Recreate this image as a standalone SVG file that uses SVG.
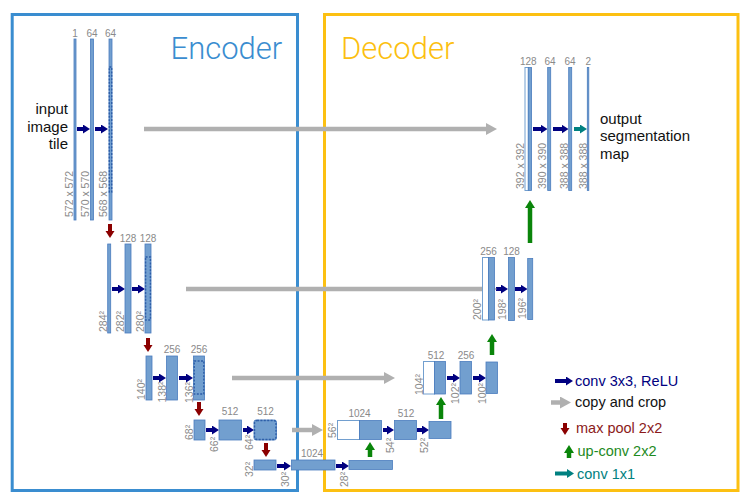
<svg xmlns="http://www.w3.org/2000/svg" width="746" height="496" viewBox="0 0 746 496">
<defs>
<style>
.bar{fill:#729fcf;stroke:#4a7cbe;stroke-width:0.8}
.wbar{fill:#ffffff;stroke:#729fcf;stroke-width:1}
.crop{fill:none;stroke:#2d5ea8;stroke-width:1.4;stroke-dasharray:2 1.4}
.ch{font-family:"Liberation Sans",Arial,sans-serif;font-size:10px;fill:#8a8a8a;text-anchor:middle}
.dim{font-family:"Liberation Sans",Arial,sans-serif;font-size:10.5px;fill:#8a8a8a}
.lbl{font-family:"Liberation Sans",Arial,sans-serif;font-size:15px;fill:#111111}
.leg{font-family:"Liberation Sans",Arial,sans-serif;font-size:14.5px}
.title{font-family:Roboto,"Liberation Sans",sans-serif;font-weight:300;font-size:31px}
.conv{stroke:#000080;stroke-width:4;fill:none;marker-end:url(#hNavy)}
.copy{stroke:#b0b0b0;stroke-width:4.5;fill:none;marker-end:url(#hGray)}
.pool{stroke:#8b0000;stroke-width:4;fill:none;marker-end:url(#hRed)}
.up{stroke:#0a850a;stroke-width:4.5;fill:none;marker-end:url(#hGreen)}
.c11{stroke:#008080;stroke-width:4;fill:none;marker-end:url(#hTeal)}
</style>
<marker id="hNavy" markerUnits="userSpaceOnUse" markerWidth="8" markerHeight="10" refX="1" refY="4.5" orient="auto"><path d="M0,0 L7,4.5 L0,9 Z" fill="#000080"/></marker>
<marker id="hTeal" markerUnits="userSpaceOnUse" markerWidth="8" markerHeight="10" refX="1" refY="4.5" orient="auto"><path d="M0,0 L7,4.5 L0,9 Z" fill="#008080"/></marker>
<marker id="hRed" markerUnits="userSpaceOnUse" markerWidth="8" markerHeight="10" refX="1" refY="4.5" orient="auto"><path d="M0,0 L7,4.5 L0,9 Z" fill="#8b0000"/></marker>
<marker id="hGreen" markerUnits="userSpaceOnUse" markerWidth="9" markerHeight="11" refX="1" refY="5" orient="auto"><path d="M0,0 L8,5 L0,10 Z" fill="#0a850a"/></marker>
<marker id="hGray" markerUnits="userSpaceOnUse" markerWidth="12" markerHeight="13" refX="1" refY="6" orient="auto"><path d="M0,0 L11,6 L0,12 Z" fill="#b0b0b0"/></marker>
</defs>
<rect width="746" height="496" fill="#ffffff"/>

<g id="encoder-frame">
<rect x="12.2" y="14.5" width="285.3" height="476" fill="none" stroke="#3a8dd0" stroke-width="3"/>
<text class="title" x="170.5" y="58.5" fill="#3a8dd0">Encoder</text>
</g>
<g id="decoder-frame">
<rect x="324.5" y="14.5" width="413.5" height="476" fill="none" stroke="#fcc012" stroke-width="3"/>
<text class="title" x="341" y="58.5" fill="#fcbf10">Decoder</text>
</g>

<g id="connectors">
<line class="conv" x1="77" y1="129" x2="84" y2="129"/>
<line class="conv" x1="95" y1="129" x2="102" y2="129"/>
<line class="conv" x1="112" y1="289" x2="119" y2="289"/>
<line class="conv" x1="132" y1="289" x2="139" y2="289"/>
<line class="conv" x1="153" y1="378" x2="160" y2="378"/>
<line class="conv" x1="179" y1="378" x2="187" y2="378"/>
<line class="conv" x1="206" y1="430" x2="213" y2="430"/>
<line class="conv" x1="243" y1="430" x2="248" y2="430"/>
<line class="conv" x1="277" y1="466" x2="285" y2="466"/>
<line class="conv" x1="336" y1="466" x2="343" y2="466"/>
<line class="conv" x1="383" y1="430" x2="388" y2="430"/>
<line class="conv" x1="417" y1="430" x2="423" y2="430"/>
<line class="conv" x1="447" y1="378" x2="454" y2="378"/>
<line class="conv" x1="473" y1="378" x2="480" y2="378"/>
<line class="conv" x1="496" y1="289" x2="502" y2="289"/>
<line class="conv" x1="515" y1="289" x2="521.5" y2="289"/>
<line class="conv" x1="533" y1="129" x2="541.5" y2="129"/>
<line class="conv" x1="553" y1="129" x2="562.5" y2="129"/>
<line class="c11" x1="574" y1="129" x2="581" y2="129"/>
<line class="copy" x1="144" y1="129" x2="487" y2="129"/>
<line class="copy" x1="186" y1="289" x2="487" y2="289"/>
<line class="copy" x1="232" y1="378" x2="385" y2="378"/>
<line class="copy" x1="292" y1="430" x2="313" y2="430"/>
<line class="pool" x1="110" y1="224" x2="110" y2="232"/>
<line class="pool" x1="148" y1="338" x2="148" y2="346"/>
<line class="pool" x1="199" y1="402" x2="199" y2="410"/>
<line class="pool" x1="266" y1="443" x2="266" y2="451"/>
<line class="up" x1="370" y1="457" x2="370" y2="449"/>
<line class="up" x1="441" y1="419" x2="441" y2="404"/>
<line class="up" x1="492" y1="355" x2="492" y2="341"/>
<line class="up" x1="530" y1="243" x2="530" y2="207"/>
</g>

<g id="enc-level1">
<rect class="bar" x="74" y="39" width="2" height="181"/>
<rect class="bar" x="90.5" y="39" width="3" height="181"/>
<rect class="bar" x="109" y="39" width="3" height="181"/>
<rect class="crop" x="109.3" y="67" width="2.4" height="125"/>
<text class="ch" x="75" y="37">1</text>
<text class="ch" x="92" y="37">64</text>
<text class="ch" x="110.5" y="37">64</text>
<text class="dim" transform="translate(72.5,217) rotate(-90)">572 x 572</text>
<text class="dim" transform="translate(89.3,217) rotate(-90)">570 x 570</text>
<text class="dim" transform="translate(107.3,217) rotate(-90)">568 x 568</text>
<text class="lbl" text-anchor="end"><tspan x="68" y="114">input</tspan><tspan x="68" y="131.5">image</tspan><tspan x="68" y="149">tile</tspan></text>
</g>

<g id="enc-level2">
<rect class="bar" x="107.7" y="244" width="3" height="89"/>
<rect class="bar" x="125" y="244" width="6" height="89"/>
<rect class="bar" x="145" y="244" width="6" height="89"/>
<rect class="crop" x="145.6" y="257" width="4.8" height="63"/>
<text class="ch" x="128" y="242">128</text>
<text class="ch" x="148" y="242">128</text>
<text class="dim" transform="translate(106.5,332) rotate(-90)">284²</text>
<text class="dim" transform="translate(124,332) rotate(-90)">282²</text>
<text class="dim" transform="translate(144,332) rotate(-90)">280²</text>
</g>

<g id="enc-level3">
<rect class="bar" x="146" y="356" width="6" height="44"/>
<rect class="bar" x="166.5" y="356" width="11" height="44"/>
<rect class="bar" x="193.5" y="356" width="11" height="44"/>
<rect class="crop" x="194.2" y="361" width="9.6" height="33"/>
<text class="ch" x="172" y="353">256</text>
<text class="ch" x="199" y="353">256</text>
<text class="dim" transform="translate(145,400) rotate(-90)">140²</text>
<text class="dim" transform="translate(166,402.5) rotate(-90)">138²</text>
<text class="dim" transform="translate(193,403) rotate(-90)">136²</text>
</g>

<g id="enc-level4">
<rect class="bar" x="194" y="420" width="11" height="20"/>
<rect class="bar" x="219" y="420" width="22.5" height="20"/>
<rect class="bar" x="254" y="420" width="22.5" height="20" rx="2"/>
<rect class="crop" x="254.5" y="420.5" width="21.5" height="19" rx="2.5"/>
<text class="ch" x="230" y="415">512</text>
<text class="ch" x="265.5" y="415">512</text>
<text class="dim" transform="translate(193,440) rotate(-90)">68²</text>
<text class="dim" transform="translate(217.5,452) rotate(-90)">66²</text>
<text class="dim" transform="translate(252.5,450) rotate(-90)">64²</text>
</g>

<g id="bottleneck">
<rect class="bar" x="254" y="460" width="22" height="10"/>
<rect class="bar" x="291.5" y="460" width="43.5" height="10"/>
<rect class="bar" x="349" y="460.5" width="43.5" height="9"/>
<text class="ch" x="312" y="457">1024</text>
<text class="dim" transform="translate(253,477) rotate(-90)">32²</text>
<text class="dim" transform="translate(289,487) rotate(-90)">30²</text>
<text class="dim" transform="translate(348,487) rotate(-90)">28²</text>
</g>

<g id="dec-level4">
<rect class="wbar" x="337.5" y="420.5" width="22" height="19"/>
<rect class="bar" x="359.5" y="420.5" width="22" height="19"/>
<rect class="bar" x="394.5" y="420.5" width="22" height="19"/>
<rect class="bar" x="429" y="421.5" width="22" height="17"/>
<text class="ch" x="359.5" y="417">1024</text>
<text class="ch" x="406" y="417">512</text>
<text class="dim" transform="translate(335.5,438) rotate(-90)">56²</text>
<text class="dim" transform="translate(393.5,453) rotate(-90)">54²</text>
<text class="dim" transform="translate(428,453) rotate(-90)">52²</text>
</g>

<g id="dec-level3">
<rect class="wbar" x="423.5" y="361.5" width="11" height="32.5"/>
<rect class="bar" x="434.5" y="361.5" width="11" height="32.5"/>
<rect class="bar" x="460" y="361.5" width="11.5" height="32.5"/>
<rect class="bar" x="486" y="362" width="11.5" height="31.5"/>
<text class="ch" x="436" y="359">512</text>
<text class="ch" x="466" y="359">256</text>
<text class="dim" transform="translate(423,395) rotate(-90)">104²</text>
<text class="dim" transform="translate(459,404) rotate(-90)">102²</text>
<text class="dim" transform="translate(485.5,404) rotate(-90)">100²</text>
</g>

<g id="dec-level2">
<rect class="wbar" x="482.5" y="257.5" width="6" height="62.5"/>
<rect class="bar" x="488.5" y="257.5" width="6" height="62.5"/>
<rect class="bar" x="508.5" y="257.5" width="6" height="63"/>
<rect class="bar" x="527.7" y="258.5" width="5" height="61"/>
<text class="ch" x="488.5" y="255">256</text>
<text class="ch" x="511.5" y="255">128</text>
<text class="dim" transform="translate(480.5,320) rotate(-90)">200²</text>
<text class="dim" transform="translate(505.5,320) rotate(-90)">198²</text>
<text class="dim" transform="translate(525.5,319) rotate(-90)">196²</text>
</g>

<g id="dec-level1">
<rect class="wbar" x="525" y="67.5" width="3.3" height="123"/>
<rect class="bar" x="528.3" y="67.5" width="3.3" height="123"/>
<rect class="bar" x="547.7" y="67.5" width="3" height="123"/>
<rect class="bar" x="568.7" y="67.5" width="3" height="123"/>
<rect class="bar" x="587.3" y="67.5" width="1.5" height="123"/>
<text class="ch" x="528.3" y="65">128</text>
<text class="ch" x="550" y="65">64</text>
<text class="ch" x="570" y="65">64</text>
<text class="ch" x="588.3" y="65">2</text>
<text class="dim" transform="translate(523.5,189) rotate(-90)">392 x 392</text>
<text class="dim" transform="translate(546,189) rotate(-90)">390 x 390</text>
<text class="dim" transform="translate(567.5,189) rotate(-90)">388 x 388</text>
<text class="dim" transform="translate(586.5,189) rotate(-90)">388 x 388</text>
<text class="lbl"><tspan x="600" y="123.5">output</tspan><tspan x="600" y="141">segmentation</tspan><tspan x="600" y="158.5">map</tspan></text>
</g>

<g id="legend">
<line class="conv" x1="555" y1="381" x2="567" y2="381"/>
<text class="leg" x="575" y="386" fill="#000080">conv 3x3, ReLU</text>
<line class="copy" x1="551" y1="402.5" x2="561" y2="402.5"/>
<text class="leg" x="575" y="407" fill="#111111">copy and crop</text>
<line class="pool" x1="565" y1="423" x2="565" y2="429"/>
<text class="leg" x="576" y="433" fill="#8b1a1a">max pool 2x2</text>
<line class="up" x1="569" y1="458" x2="569" y2="452"/>
<text class="leg" x="577.5" y="455.5" fill="#1e8a1e">up-conv 2x2</text>
<line class="c11" x1="555" y1="473.5" x2="568" y2="473.5"/>
<text class="leg" x="577" y="478.5" fill="#008080">conv 1x1</text>
</g>
</svg>
